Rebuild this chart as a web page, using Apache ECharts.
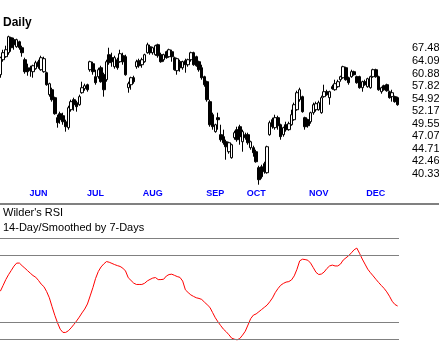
<!DOCTYPE html>
<html><head><meta charset="utf-8">
<script src="https://cdn.jsdelivr.net/npm/echarts@6/dist/echarts.min.js"></script>
<style>html,body{margin:0;padding:0;background:#fff}#c{width:439px;height:359px}</style>
</head><body><div id="c"></div>
<script>
// ---- data ----
const monthNames = ['MAY','JUN','JUL','AUG','SEP','OCT','NOV','DEC'];
const tradingDays = [
  [11,14,15,16,17,18,21,22,23,24,25,29,30,31],
  [1,4,5,6,7,8,11,12,13,14,15,18,19,20,21,22,25,26,27,28,29],
  [2,3,5,6,9,10,11,12,13,16,17,18,19,20,23,24,25,26,27,30,31],
  [1,2,3,6,7,8,9,10,13,14,15,16,17,20,21,22,23,24,27,28,29,30,31],
  [4,5,6,7,10,17,18,19,20,21,24,25,26,27,28],
  [1,2,3,4,5,8,9,10,11,12,15,16,17,18,19,22,23,24,25,26,29,30,31],
  [1,2,5,6,7,8,9,12,13,14,15,16,19,20,21,23,26,27,28,29,30],
  [3,4,5,6,7,10,11,12,13]
];
const open = [60.51,64.33,65.13,66.20,70.38,69.81,67.84,69.24,67.56,64.33,
62.26,62.26,61.26,62.01,63.81,61.76,61.26,61.01,55.77,56.91,
55.09,50.77,51.60,51.18,49.94,48.74,52.45,54.64,53.98,53.53,
56.22,57.15,58.09,61.76,63.29,60.02,60.02,62.26,60.51,59.29,
65.66,64.86,62.52,64.33,63.81,65.39,65.13,57.38,58.09,59.77,
62.52,64.07,63.03,63.81,66.20,67.84,66.20,65.66,68.40,65.66,
64.33,66.47,65.13,66.47,64.86,61.51,63.81,62.26,64.07,63.03,
64.33,66.20,65.13,63.81,62.26,60.02,58.81,54.20,51.39,47.95,
50.77,47.36,46.98,46.02,44.18,43.11,46.78,48.34,48.93,46.02,
47.36,47.36,44.91,44.91,44.18,41.39,41.55,42.07,40.55,47.36,
50.35,48.74,50.77,49.33,47.36,49.33,48.34,49.33,50.35,52.45,
54.64,55.32,50.77,50.35,49.94,51.81,52.45,52.45,51.81,55.32,
56.45,55.09,57.62,56.91,57.62,59.29,59.77,62.26,59.77,60.02,
61.26,60.02,60.02,57.38,58.81,57.62,57.38,60.02,61.76,60.02,
56.45,57.85,58.09,56.45,55.32,55.32,55.09];
const close = [64.86,66.20,67.01,70.67,67.56,68.40,69.81,67.56,66.20,61.26,
61.26,61.51,62.77,63.55,62.52,64.86,64.60,58.09,58.33,54.64,
51.60,49.74,50.35,49.94,48.93,52.88,54.20,53.53,53.10,55.32,
57.38,57.85,56.91,63.81,61.26,58.57,61.76,58.81,56.91,63.81,
63.55,63.81,64.86,62.26,65.93,63.81,60.51,58.33,59.77,58.81,
63.81,62.77,64.33,65.66,68.40,66.20,67.56,68.12,65.39,63.81,
65.66,64.86,67.01,65.13,61.76,64.60,62.26,63.81,63.03,64.33,
66.20,63.03,62.77,61.76,59.77,58.09,54.64,49.33,48.93,49.33,
50.35,46.40,45.83,45.09,45.83,45.46,47.75,46.40,46.98,47.95,
46.78,45.83,46.02,44.00,42.41,39.41,39.90,40.72,45.09,49.74,
48.93,50.77,49.13,46.98,48.74,48.34,49.53,51.39,53.53,56.22,
56.91,52.03,48.93,49.13,51.81,53.53,53.75,53.98,55.09,56.45,
55.77,56.45,57.15,58.33,58.81,60.02,62.52,59.29,58.57,61.26,
60.51,58.57,57.38,58.81,58.09,59.53,60.02,61.76,60.02,56.91,
57.38,56.91,56.68,55.09,56.22,54.20,53.53];
const low = [59.77,63.81,64.86,65.66,66.47,67.01,67.56,67.01,65.13,60.76,
60.26,60.02,59.77,61.76,62.01,61.51,61.01,57.85,55.32,54.20,
51.39,48.74,49.53,49.33,47.95,48.34,52.03,52.24,52.03,53.31,
55.99,56.68,56.45,61.26,60.51,58.09,59.53,58.57,55.32,58.81,
63.03,62.52,62.01,61.76,63.55,63.03,60.26,56.22,56.91,58.33,
62.01,62.26,62.26,63.55,65.93,65.66,65.66,65.39,64.86,63.55,
63.81,64.60,64.86,63.81,61.51,60.51,61.26,61.76,61.01,62.52,
63.81,62.77,62.52,61.26,59.29,57.62,54.20,48.93,48.34,47.75,
48.34,46.02,45.46,42.76,43.82,42.94,46.40,46.02,45.46,44.18,
46.40,45.46,44.54,43.29,42.24,38.61,39.57,40.39,40.39,47.17,
48.54,48.34,48.34,46.40,46.98,47.95,48.14,49.13,50.15,52.24,
54.20,51.81,48.34,48.74,49.53,51.39,52.03,52.24,51.60,55.09,
55.54,53.53,56.91,56.68,57.38,58.81,59.53,59.05,58.09,59.77,
60.26,58.33,57.15,56.45,57.85,57.38,57.15,59.77,59.77,56.68,
55.99,56.68,56.45,54.87,54.20,53.98,53.31];
const high = [65.13,67.01,68.12,70.96,70.67,70.38,70.10,69.53,68.12,64.86,
63.29,62.77,63.03,64.07,64.33,65.39,65.13,61.26,58.57,57.38,
55.32,51.39,52.03,51.81,50.35,53.31,54.64,55.09,54.42,55.77,
58.81,58.33,58.33,64.07,63.81,61.76,62.26,62.77,61.01,64.33,
67.56,66.20,65.39,64.86,67.01,66.20,65.66,58.81,60.02,60.26,
64.33,64.60,64.86,65.93,68.96,68.40,67.84,68.40,68.68,66.20,
65.93,66.74,67.29,67.01,65.13,64.86,64.33,64.07,64.60,64.60,
66.47,66.47,65.39,64.07,63.03,60.26,59.05,54.64,51.81,49.53,
51.81,49.33,48.34,46.40,46.02,45.65,48.14,48.93,49.33,48.34,
47.75,47.75,46.21,45.28,44.54,41.72,41.89,42.41,45.28,50.15,
50.77,51.39,51.18,49.53,48.93,49.94,49.94,52.45,53.98,56.68,
57.38,55.54,50.97,50.56,52.03,53.98,54.20,54.42,55.54,58.09,
56.91,56.68,58.09,59.29,59.29,60.26,62.77,62.52,60.02,61.76,
61.51,60.26,60.26,59.05,59.29,59.77,60.26,62.01,62.01,60.26,
57.62,58.09,58.33,56.68,56.91,55.54,55.32];
const rsi = [48.4,51.8,55.3,58.2,60.7,63.3,65.1,65.1,63.5,62.1,
60.6,59.1,57.7,56.7,54.8,52.6,51.1,48.2,44.5,39.2,
34.1,29.6,25.8,23.9,23.9,24.9,26.6,28.6,30.7,33.0,
35.5,37.8,40.8,45.6,50.5,56.0,60.1,62.8,64.6,66.0,
65.6,64.9,64.2,63.6,63.1,62.1,60.4,56.4,54.8,53.2,
52.4,52.4,52.4,53.1,54.5,55.4,56.2,56.5,55.3,55.3,
55.5,57.4,58.3,58.5,57.8,57.1,56.6,54.4,49.2,47.6,
46.2,45.3,44.5,44.1,43.5,41.9,40.4,38.8,35.7,32.6,
30.1,27.9,25.8,24.3,22.5,20.5,19.9,19.5,20.3,22.3,
24.6,28.3,32.1,34.2,34.9,36.2,37.5,38.8,40.1,42.1,
44.4,47.5,49.9,51.9,53.0,53.8,54.1,55.1,57.5,61.4,
66.4,67.4,67.2,66.8,65.1,62.4,59.6,58.3,58.6,59.8,
61.9,63.4,63.9,63.4,63.4,64.5,66.9,68.2,69.5,71.2,
73.0,74.0,70.9,67.5,64.5,61.5,59.4,57.5,55.5,53.6,
51.8,50.1,48.0,45.4,42.4,40.5,39.6];
const priceTickLabels = [40.33,42.46,44.71,47.07,49.55,52.17,54.92,57.82,60.88,64.09,67.48];
const rsiLevels = [80,70,30,20];

// ---- derived structures ----
const categories = [];
const monthStart = {};
tradingDays.forEach((days, m) => {
  days.forEach((d, k) => {
    if (k === 0 && m > 0) monthStart[categories.length] = monthNames[m];
    categories.push(monthNames[m] + ' ' + d);
  });
});
const candles = open.map((o, i) => [o, close[i], low[i], high[i]]);
const LOG_BASE = Math.pow(priceTickLabels[0], 1 / 72);

const chart = echarts.init(document.getElementById('c'), null, {renderer: 'canvas'});
chart.setOption({
  animation: false,
  backgroundColor: '#ffffff',
  title: [
    {text: 'Daily', left: 3, top: 17, padding: 0,
     textStyle: {fontSize: 12, fontWeight: 'bold', color: '#000', fontFamily: 'Liberation Sans, Arial, sans-serif'}},
    {text: "Wilder's RSI\n14-Day/Smoothed by 7-Days", left: 3, top: 206, padding: 0,
     textStyle: {fontSize: 11, fontWeight: 'normal', color: '#000', lineHeight: 14.5, fontFamily: 'Liberation Sans, Arial, sans-serif'}}
  ],
  graphic: [
    {type: 'rect', shape: {x: 0, y: 203, width: 439, height: 2}, style: {fill: '#808080'}, silent: true}
  ],
  grid: [
    {left: -1, width: 400, top: 23.19, height: 163.41, outerBoundsMode: 'none', containLabel: false},
    {left: -1, width: 400, top: 221.17, height: 134.66, outerBoundsMode: 'none', containLabel: false}
  ],
  xAxis: [
    {type: 'category', gridIndex: 0, data: categories, boundaryGap: true,
     axisLine: {show: false}, axisTick: {show: false}, splitLine: {show: false},
     axisLabel: {interval: (idx) => monthStart[idx] !== undefined,
                 formatter: (v, idx) => monthStart[idx] || '',
                 color: '#0000ff', fontSize: 9, margin: 2, fontWeight: 'bold',
                 fontFamily: 'Liberation Sans Narrow, Arial Narrow, sans-serif'}},
    {type: 'category', gridIndex: 1, data: categories, boundaryGap: true, show: false}
  ],
  yAxis: [
    {type: 'log', gridIndex: 0, position: 'right', logBase: LOG_BASE,
     min: Math.pow(LOG_BASE, 71), max: Math.pow(LOG_BASE, 84), interval: 1,
     axisLine: {show: false}, axisTick: {show: false}, splitLine: {show: false},
     axisLabel: {margin: 13, color: '#000', fontSize: 11, align: 'left',
                 fontFamily: 'Liberation Sans, Arial, sans-serif',
                 formatter: (v) => {
                   let best = null, bd = 1e9;
                   priceTickLabels.forEach(l => { const d = Math.abs(l - v); if (d < bd) { bd = d; best = l; } });
                   return bd < 0.3 ? best.toFixed(2) : '';
                 }}},
    {type: 'value', gridIndex: 1, min: 10, max: 90, show: false}
  ],
  series: [
    {type: 'candlestick', xAxisIndex: 0, yAxisIndex: 0, data: candles, barWidth: 3,
     itemStyle: {color: '#ffffff', color0: '#000000', borderColor: '#000000', borderColor0: '#000000', borderWidth: 1},
     emphasis: {disabled: true}},
    {type: 'line', xAxisIndex: 1, yAxisIndex: 1, data: rsi, showSymbol: false, symbol: 'none',
     lineStyle: {color: '#ff0000', width: 1}, emphasis: {disabled: true},
     markLine: {silent: true, symbol: 'none', label: {show: false},
                lineStyle: {color: '#808080', type: 'solid', width: 1},
                data: rsiLevels.map(v => ({yAxis: v}))}}
  ]
});
</script></body></html>
